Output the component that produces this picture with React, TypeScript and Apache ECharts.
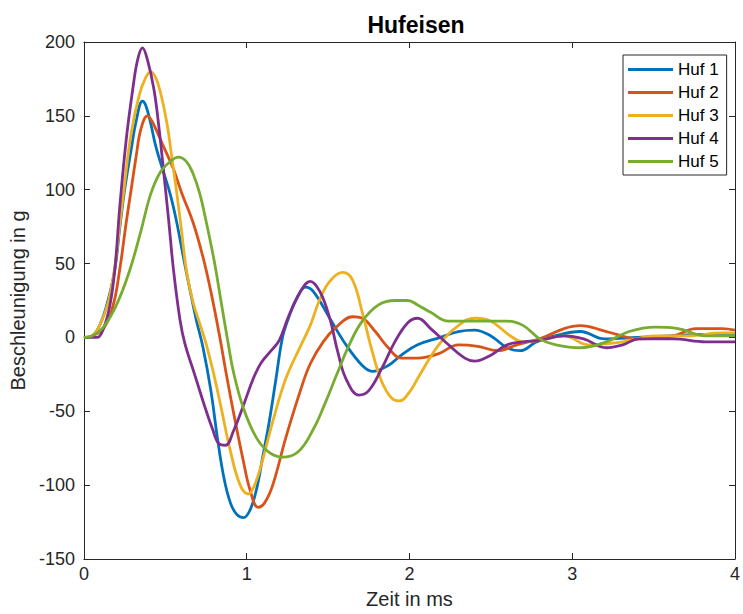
import React, { useEffect, useRef } from "react";
import * as echarts from "echarts";

const seriesNames = ["Huf 1", "Huf 2", "Huf 3", "Huf 4", "Huf 5"];
const colors = ["#0072BD", "#D95319", "#EDB120", "#7E2F8E", "#77AC30"];
const xTicks = [0, 1, 2, 3, 4];
const yTicks = [-150, -100, -50, 0, 50, 100, 150, 200];

const huf1: number[][] = [
  [0, 0], [0.05, 1], [0.1, 9], [0.15, 26], [0.19, 46], [0.22, 74], [0.25, 100], [0.29, 127], [0.32, 146], [0.36, 160],
  [0.38, 157], [0.41, 145], [0.44, 130], [0.48, 115], [0.53, 97], [0.57, 78], [0.61, 55], [0.65, 33], [0.69, 12],
  [0.73, -6], [0.78, -36], [0.82, -68], [0.86, -95], [0.9, -112], [0.94, -120], [0.98, -122], [1.02, -117], [1.06, -103],
  [1.1, -80], [1.14, -56], [1.18, -28], [1.22, 0], [1.26, 14], [1.31, 27], [1.36, 34], [1.41, 31], [1.51, 13], [1.61, -5],
  [1.71, -19], [1.77, -23], [1.87, -19], [1.95, -12], [2.05, -5], [2.19, 0], [2.3, 4], [2.4, 5], [2.5, 1], [2.6, -7],
  [2.68, -9], [2.78, -3], [2.89, 1], [3.05, 4], [3.2, -1], [3.4, 0], [3.6, 1], [3.8, 2], [4.0, 2],
];

const huf2: number[][] = [
  [0, 0], [0.05, 1], [0.12, 6], [0.18, 22], [0.22, 46], [0.26, 78], [0.29, 100], [0.32, 122], [0.35, 141], [0.39, 150],
  [0.42, 146], [0.49, 129], [0.55, 114], [0.6, 98], [0.67, 78], [0.73, 55], [0.78, 31], [0.83, 3],
  [0.88, -28], [0.93, -57], [0.98, -84], [1.02, -103], [1.07, -115], [1.11, -112], [1.16, -100], [1.24, -68], [1.33, -36],
  [1.39, -18], [1.47, -3], [1.55, 7], [1.65, 14], [1.71, 13], [1.79, 4], [1.87, -7], [1.95, -14], [2.05, -14],
  [2.18, -11], [2.3, -5], [2.42, -6], [2.54, -9], [2.66, -5], [2.8, -1], [2.95, 6], [3.05, 8], [3.21, 4], [3.41, -1],
  [3.62, 1], [3.76, 6], [3.92, 6], [4.0, 5],
];

const huf3: number[][] = [
  [0, 0], [0.05, 1], [0.1, 9], [0.15, 24], [0.19, 48], [0.22, 76], [0.25, 104], [0.29, 138], [0.34, 164], [0.38, 176],
  [0.41, 180], [0.44, 176], [0.47, 166], [0.51, 145], [0.54, 122], [0.57, 98], [0.6, 72], [0.63, 45], [0.67, 24],
  [0.71, 10], [0.75, -4], [0.8, -26], [0.84, -46], [0.9, -77], [0.96, -100], [1.01, -106], [1.04, -102], [1.08, -90],
  [1.16, -57], [1.24, -28], [1.33, -6], [1.39, 8], [1.45, 26], [1.51, 38], [1.59, 44], [1.65, 39], [1.71, 17],
  [1.77, -9], [1.83, -30], [1.89, -41], [1.94, -43], [2.0, -37], [2.06, -26], [2.18, -5], [2.3, 8], [2.4, 13],
  [2.5, 11], [2.62, 1], [2.7, -3], [2.8, -2], [2.95, 1], [3.1, -5], [3.31, -3], [3.51, 1], [3.71, 1], [3.92, 3], [4.0, 3],
];

const huf4: number[][] = [
  [0, 0], [0.08, 0], [0.12, 6], [0.16, 22], [0.19, 46], [0.22, 88], [0.26, 134], [0.3, 168], [0.33, 188],
  [0.36, 196], [0.39, 188], [0.43, 168], [0.46, 143], [0.49, 112], [0.52, 80], [0.55, 46], [0.59, 12],
  [0.62, -4], [0.68, -25], [0.74, -46], [0.79, -62], [0.83, -72], [0.87, -73], [0.92, -63], [0.98, -46],
  [1.04, -28], [1.09, -17], [1.15, -9], [1.2, -2], [1.26, 15], [1.33, 31], [1.39, 38], [1.45, 31], [1.51, 13],
  [1.56, -10], [1.61, -28], [1.69, -39], [1.75, -36], [1.83, -21], [1.91, -3], [1.99, 10], [2.05, 13], [2.13, 6],
  [2.24, -5], [2.34, -14], [2.4, -16], [2.5, -12], [2.6, -5], [2.7, -3], [2.8, -2], [2.95, 1], [3.07, -1], [3.21, -7],
  [3.31, -5], [3.41, -1], [3.62, -1], [3.82, -3], [4.0, -3],
];

const huf5: number[][] = [
  [0, 0], [0.05, 1], [0.12, 7], [0.2, 22], [0.28, 45], [0.35, 72], [0.41, 97], [0.47, 112], [0.53, 119], [0.58, 122],
  [0.63, 119], [0.67, 111], [0.71, 98], [0.75, 79], [0.8, 52], [0.84, 26], [0.88, 0], [0.92, -24],
  [0.98, -48], [1.06, -68], [1.14, -78], [1.22, -81], [1.32, -77], [1.41, -62], [1.48, -45], [1.55, -26], [1.63, -5],
  [1.71, 11], [1.81, 22], [1.91, 25], [1.99, 25], [2.05, 22], [2.13, 17], [2.24, 11], [2.34, 11], [2.48, 11], [2.6, 11],
  [2.7, 8], [2.8, -1], [2.9, -5], [3.05, -7], [3.21, -3], [3.35, 4], [3.51, 7], [3.65, 6], [3.82, 1], [4.0, 1],
];

const allData = [huf1, huf2, huf3, huf4, huf5];

const FONT = "Liberation Sans, Arial, Helvetica, sans-serif";
const AX = "#262626";

export default function App() {
  const ref = useRef<HTMLDivElement>(null);
  useEffect(() => {
    if (!ref.current) return;
    const chart = echarts.init(ref.current, undefined, { renderer: "svg" });
    const hiddenAxis = {
      axisLabel: { show: false },
      axisLine: { show: true, onZero: false, lineStyle: { color: AX, width: 1 } },
      axisTick: { show: true, inside: true, length: 6, lineStyle: { color: AX } },
      splitLine: { show: false },
    };
    chart.setOption({
      animation: false,
      backgroundColor: "#ffffff",
      title: {
        text: "Hufeisen",
        left: 411,
        textAlign: "center",
        top: 8,
        textStyle: { fontFamily: FONT, fontSize: 23, fontWeight: "bold", color: "#000" },
      },
      legend: {
        orient: "vertical",
        left: 623,
        top: 55,
        padding: [6, 8, 5, 5],
        itemGap: 6,
        itemWidth: 45,
        itemHeight: 3,
        icon: "rect",
        borderColor: AX,
        borderWidth: 1,
        backgroundColor: "#fff",
        textStyle: { fontFamily: FONT, fontSize: 17, lineHeight: 17, color: "#000" },
        data: seriesNames,
      },
      grid: { left: 82, right: 3, top: 42, bottom: 52 },
      xAxis: [
        {
          type: "value",
          min: 0,
          max: 4,
          interval: 1,
          name: "Zeit in ms",
          nameLocation: "middle",
          nameGap: 30,
          nameTextStyle: { fontFamily: FONT, fontSize: 20, color: AX },
          axisLine: { show: true, onZero: false, lineStyle: { color: AX, width: 1 } },
          axisTick: { show: true, inside: true, length: 6, lineStyle: { color: AX } },
          axisLabel: {
            fontFamily: FONT,
            fontSize: 18,
            color: AX,
            margin: 6,
            formatter: (v: number) => (xTicks.includes(v) ? String(v) : ""),
          },
          splitLine: { show: false },
        },
        { type: "value", position: "top", min: 0, max: 4, interval: 1, ...hiddenAxis },
      ],
      yAxis: [
        {
          type: "value",
          min: -150,
          max: 200,
          interval: 50,
          name: "Beschleunigung in g",
          nameLocation: "middle",
          nameGap: 50,
          nameTextStyle: { fontFamily: FONT, fontSize: 20, color: AX },
          axisLine: { show: true, onZero: false, lineStyle: { color: AX, width: 1 } },
          axisTick: { show: true, inside: true, length: 6, lineStyle: { color: AX } },
          axisLabel: {
            fontFamily: FONT,
            fontSize: 18,
            color: AX,
            margin: 9,
            formatter: (v: number) => (yTicks.includes(v) ? String(v) : ""),
          },
          splitLine: { show: false },
        },
        { type: "value", position: "right", min: -150, max: 200, interval: 50, ...hiddenAxis },
      ],
      series: allData.map((d, i) => ({
        name: seriesNames[i],
        type: "line",
        data: d,
        smooth: 0.4,
        symbol: "none",
        showSymbol: false,
        lineStyle: { color: colors[i], width: 2.8 },
        itemStyle: { color: colors[i] },
        z: 2 + i,
      })),
    });
    return () => chart.dispose();
  }, []);
  return (
    <div
      ref={ref}
      style={{ position: "fixed", left: 0, top: 0, width: 743, height: 614, background: "#fff" }}
    />
  );
}
